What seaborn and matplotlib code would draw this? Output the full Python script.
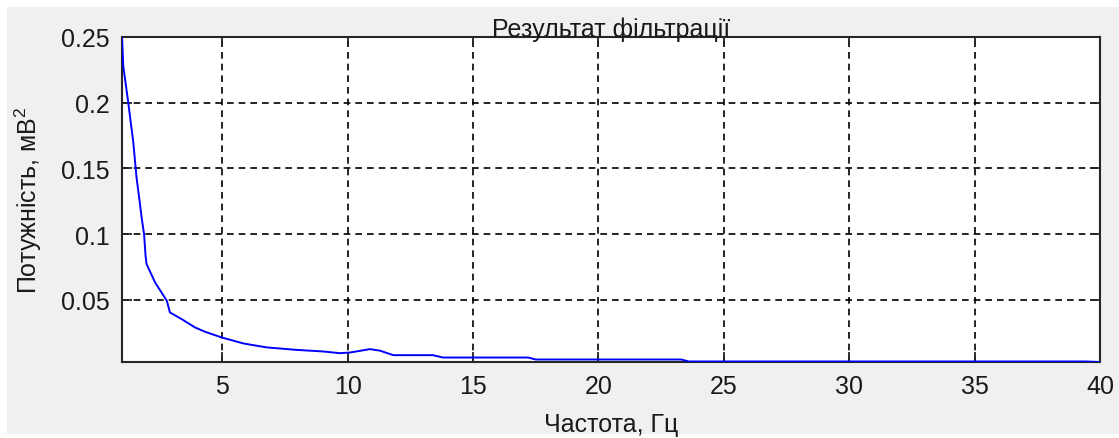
import matplotlib
matplotlib.use("Agg")
import matplotlib.pyplot as plt
from matplotlib.patches import Rectangle
from matplotlib.ticker import FormatStrFormatter
import seaborn as sns
import pandas as pd

# Filtered power spectrum: frequency (Hz) and power (mV^2)
freq = [1.0, 1.05, 1.25, 1.45, 1.58, 1.69, 1.78, 1.88, 1.94, 1.98, 2.32, 2.79,
        2.91, 3.38, 3.91, 4.31, 4.97, 5.84, 6.77, 7.97, 9.03, 9.69, 10.09,
        10.89, 11.29, 11.82, 13.4, 13.8, 17.2, 17.5, 23.3, 23.6, 39.4, 40.0]
power = [0.25, 0.228, 0.200, 0.170, 0.143, 0.127, 0.113, 0.100, 0.0836,
         0.0773, 0.0633, 0.0493, 0.0405, 0.0354, 0.0291, 0.0258, 0.0215,
         0.0169, 0.0139, 0.0120, 0.0108, 0.0095, 0.0100, 0.0126, 0.0114,
         0.0080, 0.0080, 0.0062, 0.0062, 0.0047, 0.0047, 0.0032, 0.0032,
         0.0028]

x_ticks = [5, 10, 15, 20, 25, 30, 35, 40]
y_ticks = [0.05, 0.1, 0.15, 0.2, 0.25]

title = "Результат фільтрації"
x_label = "Частота, Гц"
y_label = "Потужність, мВ$^2$"

sns.set_theme(style="white")
plt.rcParams["font.family"] = ["Liberation Sans", "DejaVu Sans"]
plt.rcParams["mathtext.fontset"] = "custom"
plt.rcParams["mathtext.rm"] = "Liberation Sans"

fs = 18
fig = plt.figure(figsize=(11.19, 4.39), dpi=100, facecolor="#f0f0f0")
# thin white frame around the window, kept beneath the axes and labels
for (x0, y0, w, h) in [(0, 0, 7 / 1119, 1), (0, 1 - 8 / 439, 1, 8 / 439),
                       (0, 0, 1, 4 / 439)]:
    fig.patches.append(Rectangle((x0, y0), w, h, transform=fig.transFigure,
                                 facecolor="white", edgecolor="none",
                                 zorder=-5))

ax = fig.add_axes([122 / 1119, 1 - 363 / 439, 978 / 1119, 325 / 439])
ax.set_facecolor("white")

df = pd.DataFrame({"f": freq, "p": power})
sns.lineplot(data=df, x="f", y="p", ax=ax, color="blue", linewidth=1.4,
             estimator=None, sort=False, zorder=3)

ax.set_xlim(1, 40)
ax.set_ylim(min(power), max(power))
ax.set_xticks(x_ticks)
ax.set_yticks(y_ticks)
ax.yaxis.set_major_formatter(FormatStrFormatter("%g"))

ax.grid(True, color="black", linestyle=(0, (4, 3)), linewidth=1.2)
ax.set_axisbelow(True)
for s in ax.spines.values():
    s.set_visible(True)
    s.set_color("#262626")
    s.set_linewidth(1.5)

ax.tick_params(axis="both", which="major", direction="in", length=7,
               width=1.3, color="#262626", labelsize=fs, labelcolor="#1a1a1a",
               top=True, right=True, bottom=True, left=True, pad=9)

ax.set_title(title, fontsize=fs, color="#1a1a1a", pad=1)
ax.set_xlabel(x_label, fontsize=fs, color="#1a1a1a", labelpad=10)
ax.set_ylabel(y_label, fontsize=fs, color="#1a1a1a", labelpad=12)

fig.savefig("out.png", dpi=100, facecolor=fig.get_facecolor())
